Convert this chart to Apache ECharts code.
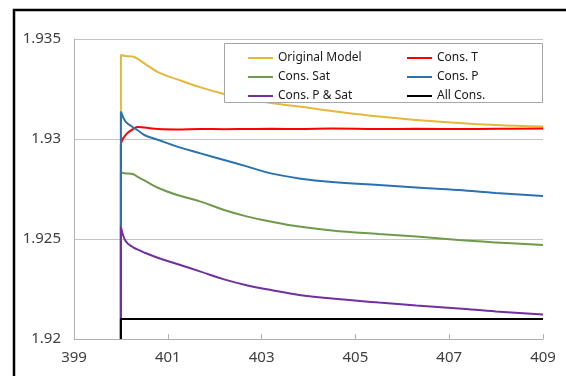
<!DOCTYPE html>
<html>
<head>
<meta charset="utf-8">
<script src="https://cdn.jsdelivr.net/npm/echarts@6/dist/echarts.min.js"></script>
<style>html,body{margin:0;padding:0;background:#fff;}#c{width:566px;height:376px;}</style>
</head>
<body>
<div id="c"></div>
<script>
var xs =        [400,    400,     400.1,   400.25,  400.35,  400.5,   400.8,   401.2,   401.7,   402.2,   402.7,   403.2,   403.8,   404.5,   405.5,   406.3,   407.2,   408.0,   409.0];
var original =  [1.92,   1.9342,  1.93415, 1.93412, 1.93402, 1.93378, 1.93333, 1.93298, 1.93258, 1.93225, 1.932,   1.9318,  1.93162, 1.9314,  1.93112, 1.93095, 1.9308,  1.9307,  1.93062];
var consT =     [1.92,   1.9297,  1.9302,  1.93048, 1.9306,  1.93057, 1.9305,  1.93048, 1.9305,  1.93049, 1.9305,  1.93051, 1.9305,  1.93052, 1.9305,  1.93051, 1.9305,  1.93051, 1.93052];
var consSat =   [1.92,   1.92832, 1.92828, 1.92825, 1.92812, 1.92793, 1.92755, 1.9272,  1.92687, 1.92645, 1.92612, 1.92587, 1.92562, 1.92543, 1.92525, 1.92512, 1.92495, 1.92483, 1.9247];
var consP =     [1.92,   1.93137, 1.93087, 1.9306,  1.93045, 1.9302,  1.92995, 1.92962, 1.92928, 1.92895, 1.92862, 1.92828, 1.92803, 1.92785, 1.9277,  1.92758, 1.92745, 1.9273,  1.92715];
var consPSat =  [1.92,   1.92562, 1.9249,  1.9246,  1.92448, 1.92432, 1.92405, 1.92375, 1.92337, 1.92298, 1.92268, 1.92245, 1.9222,  1.92202, 1.92182, 1.92168, 1.92153, 1.92138, 1.92123];
var allCons =   [1.92,   1.921,   1.921,   1.921,   1.921,   1.921,   1.921,   1.921,   1.921,   1.921,   1.921,   1.921,   1.921,   1.921,   1.921,   1.921,   1.921,   1.921,   1.921];
var names = ['Original Model', 'Cons. T', 'Cons. Sat', 'Cons. P', 'Cons. P & Sat', 'All Cons.'];
var seriesValues = [original, consT, consSat, consP, consPSat, allCons];
var colors = ['#E4B83A', '#FF0000', '#6F9A4C', '#2A72B0', '#7030A0', '#000000'];

function pairs(arr){ return xs.map(function(x,i){ return [x, arr[i]]; }); }

var chart = echarts.init(document.getElementById('c'), null, {renderer:'canvas'});
var labelFont = {fontFamily:'Noto Sans', fontSize:15, color:'#404040'};
var legendBase = {orient:'vertical', top:46, icon:'rect', itemWidth:25, itemHeight:2, itemGap:5, z:20,
  textStyle:{fontFamily:'Noto Sans', fontSize:12, lineHeight:14, color:'#1a1a1a'}};
var option = {
  animation:false,
  backgroundColor:'#fff',
  grid:{left:74, right:23, top:39, bottom:37},
  xAxis:{
    type:'value', min:399, max:409, interval:2,
    axisLine:{show:true, lineStyle:{color:'#b0b0b0', width:1}},
    axisTick:{show:true, inside:true, length:5, lineStyle:{color:'#b0b0b0'}},
    splitLine:{show:false},
    axisLabel:Object.assign({margin:11}, labelFont)
  },
  yAxis:{
    type:'value', min:1.92, max:1.935, interval:0.005,
    axisLine:{show:true, lineStyle:{color:'#b0b0b0', width:1}},
    axisTick:{show:false},
    splitLine:{show:true, lineStyle:{color:'#c4c4c4', width:1}},
    axisLabel:Object.assign({margin:13, formatter:function(v){return String(+v.toFixed(3));}}, labelFont)
  },
  legend:[
    Object.assign({data:[names[0], names[2], names[4]], left:243}, legendBase),
    Object.assign({data:[names[1], names[3], names[5]], left:402}, legendBase)
  ],
  graphic:[
    {type:'rect', z:10, shape:{x:224.5, y:43.5, width:318, height:59}, style:{fill:'#fff', stroke:'#a6a6a6', lineWidth:1}},
    {type:'rect', z:30, shape:{x:14, y:10, width:560, height:400}, style:{fill:'none', stroke:'#000', lineWidth:2.5}}
  ],
  series: seriesValues.map(function(arr, i){
    return {
      name:names[i], type:'line', data:pairs(arr), symbol:'none', smooth:0.4,
      color:colors[i], lineStyle:{color:colors[i], width:2}, z:2+i*0.01
    };
  })
};
chart.setOption(option);
</script>
</body>
</html>
